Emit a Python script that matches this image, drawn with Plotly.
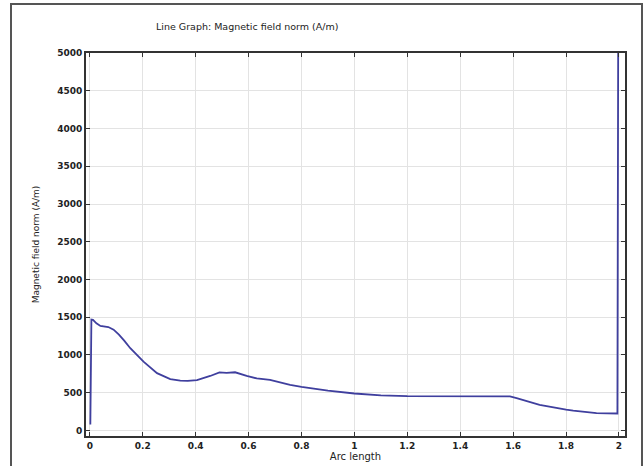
import plotly.graph_objects as go

arc_length = [0.002, 0.006, 0.012, 0.025, 0.04, 0.07, 0.09, 0.11, 0.13, 0.153, 0.203,
              0.254, 0.304, 0.342, 0.37, 0.405, 0.455, 0.49, 0.517, 0.549, 0.593, 0.615,
              0.622, 0.631, 0.681, 0.757, 0.8, 0.9, 1.0, 1.1, 1.2, 1.3, 1.4, 1.5, 1.588,
              1.613, 1.7, 1.8, 1.827, 1.915, 1.994, 1.997]
field_norm = [80, 1470, 1465, 1420, 1385, 1370, 1335, 1270, 1190, 1090, 913,
              760, 680, 660, 657, 668, 722, 770, 762, 771, 722, 708,
              696, 690, 669, 603, 577, 527, 490, 465, 455, 452, 452, 453, 452,
              428, 338, 275, 262, 230, 225, 5200]

x_ticks = [0, 0.2, 0.4, 0.6, 0.8, 1, 1.2, 1.4, 1.6, 1.8, 2]
y_ticks = [0, 500, 1000, 1500, 2000, 2500, 3000, 3500, 4000, 4500, 5000]

fig = go.Figure()
fig.add_trace(go.Scatter(x=arc_length, y=field_norm, mode="lines",
                         line=dict(color="#3f3f9e", width=1.8), showlegend=False))

axis_common = dict(showline=True, linecolor="#333333", linewidth=2, mirror="ticks",
                   ticks="inside", ticklen=4, tickcolor="#333333", tickwidth=1,
                   showgrid=True, gridcolor="#e3e3e3", gridwidth=1, zeroline=False,
                   automargin=False,
                   tickfont=dict(family="DejaVu Sans", size=9, color="#222222", weight="bold"))

fig.update_xaxes(range=[-0.0144, 2.0227], tickvals=x_ticks,
                 ticktext=[("%g" % v) for v in x_ticks],
                 title=dict(text="Arc length", standoff=2,
                            font=dict(family="DejaVu Sans", size=10, color="#222222")),
                 **axis_common)
fig.update_yaxes(range=[-73, 5000], tickvals=y_ticks,
                 title=dict(text="Magnetic field norm (A/m)", standoff=16,
                            font=dict(family="DejaVu Sans", size=9, color="#222222")),
                 **axis_common)

fig.update_layout(
    width=644, height=466,
    margin=dict(l=86, r=19, t=53, b=30),
    paper_bgcolor="white", plot_bgcolor="white",
    title=dict(text="Line Graph: Magnetic field norm (A/m)", x=156/644, xanchor="left",
               y=1 - 27/466, yanchor="middle",
               font=dict(family="DejaVu Sans", size=9.5, color="#222222")),
    shapes=[dict(type="rect", xref="paper", yref="paper",
                 x0=(11 - 86) / 539, x1=(642 - 86) / 539,
                 y0=(436 - 470) / 383, y1=(436 - 4) / 383,
                 line=dict(color="#555555", width=2), layer="below")],
)

fig.write_html("out.html", config={"displayModeBar": False},
               post_script="document.body.style.margin='0';document.body.style.overflow='hidden';")
